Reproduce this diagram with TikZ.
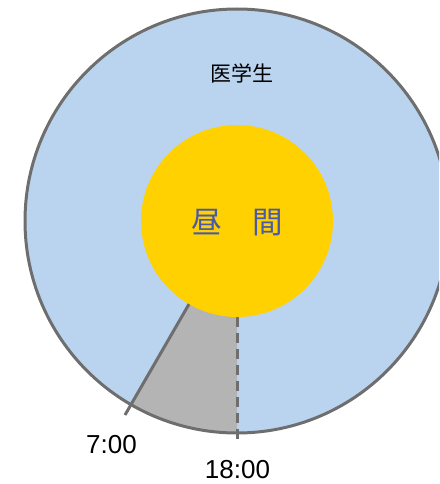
\documentclass[tikz,border=0pt]{standalone}
\usepackage{fontspec}
\usetikzlibrary{calc}
\setmainfont{Liberation Sans}
\newfontfamily\jp{Noto Sans CJK JP}
\definecolor{skyfill}{HTML}{BAD4EF}
\definecolor{sunfill}{HTML}{FFD100}
\definecolor{greyfill}{HTML}{B4B4B4}
\definecolor{rimcol}{HTML}{6E6E6E}
\definecolor{kanjiblue}{HTML}{4A5AA8}
\tikzset{
  rim/.style={draw=rimcol, line width=3pt},
  tickline/.style={draw=rimcol, line width=3pt},
  timelabel/.style={font=\fontsize{26}{30}\selectfont, inner sep=0pt},
}
\begin{document}
\begin{tikzpicture}[x=1pt,y=-1pt]
\useasboundingbox (0,0) rectangle (439,484);
\clip (0,0) rectangle (439,484);
\coordinate (c) at (237,221);
% outer disc
\fill[skyfill] (c) circle (212);
% grey sector between 240 and 270 degrees (math angles, y flipped)
\fill[greyfill] ($(c)+(-240:96)$) -- ($(c)+(-240:212)$) arc[start angle=-240, end angle=-270, radius=212] -- ($(c)+(-270:96)$) -- cycle;
\draw[rim] (c) circle (212);
% inner disc
\node[circle, fill=sunfill, minimum size=192pt, inner sep=0pt] (sun) at (c) {};
% lines
\coordinate (a1) at ($(c)+(-240:96)$);
\coordinate (a2) at ($(c)+(-240:224)$);
\coordinate (b1) at ($(c)+(-270:96)$);
\coordinate (b2) at ($(c)+(-270:224)$);
\draw[tickline] (a1) -- (a2);
\draw[tickline, dash pattern=on 10pt off 6pt] (b1) -- (b2);
% texts
\node[font=\jp\fontsize{21}{24}\selectfont, inner sep=0pt] (med) at (242,73) {医学生};
\node[font=\jp\fontsize{30.5}{34}\selectfont, text=kanjiblue, inner sep=0pt] (day) at (237.5,223) {昼　間};
\node[timelabel] (t7) at (111.5,445) {7:00};
\node[timelabel] (t18) at (237.5,470) {18:00};
\end{tikzpicture}
\end{document}
